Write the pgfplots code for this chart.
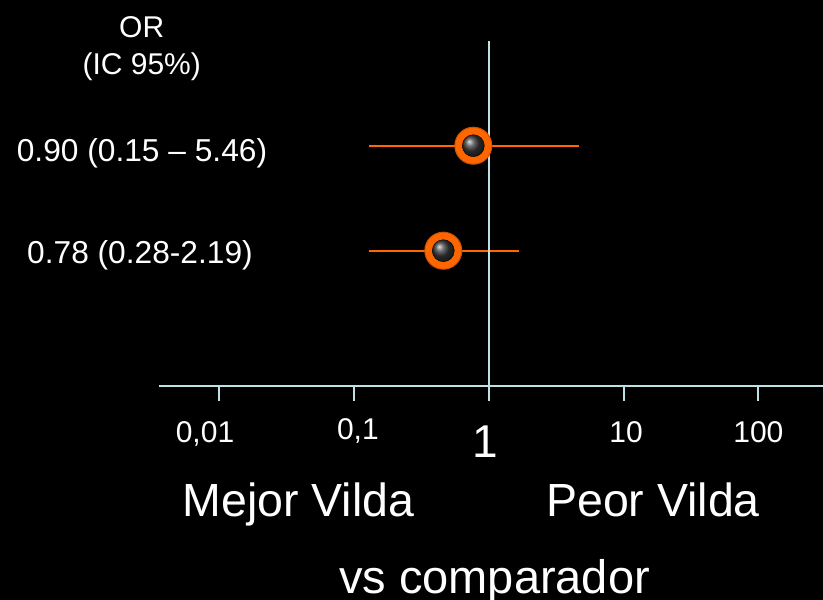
\documentclass[border=0pt]{standalone}
\usepackage{pgfplots}
\pgfplotsset{compat=1.18}
\usepackage{fontspec}
\setmainfont{Liberation Sans}
\definecolor{axc}{RGB}{190,225,228}
\definecolor{org}{RGB}{255,102,0}
\begin{document}
\begin{tikzpicture}
\useasboundingbox (0,0) rectangle (823bp,-600bp);
\fill[black] (0,0) rectangle (823bp,-600bp);
\begin{axis}[
  at={(158.6bp,-385.7bp)}, anchor=south west,
  width=664.4bp, height=344.7bp, scale only axis,
  xmode=log, xmin=0.003565, xmax=301.3, ymin=0, ymax=344.7,
  axis x line=bottom, axis y line=none,
  x axis line style={axc, line width=2bp, -},
  xtick={0.01,0.1,1,10,100},
  xticklabels={{0,01\kern28bp},{\raisebox{3bp}{0,1}\kern-8bp},{\fontsize{46bp}{46bp}\selectfont\raisebox{-15bp}{1}\kern7bp},{10\kern-5bp},{100}},
  xminorticks=false,
  tick align=outside, major tick length=15bp,
  xtick style={axc, line width=2bp},
  clip=false,
  xticklabel style={white, font=\fontsize{30bp}{30bp}\selectfont, anchor=base, inner sep=0pt, yshift=-41.6bp},
]
\addplot[org, line width=2bp] coordinates {(0.1295,240) (4.67,240)};
\addplot[org, line width=2bp] coordinates {(0.1295,135) (1.678,135)};
\addplot[only marks, mark=*, mark size=18.5bp, mark options={fill=org, draw=org!80!black, line width=1bp}] coordinates {(0.769,240) (0.4606,135)};
\addplot[only marks, mark=ball, mark size=11bp, mark options={ball color=gray!45!black}] coordinates {(0.769,240) (0.4606,135)};
\addplot[axc, line width=2bp] coordinates {(1,0) (1,344.7)};
\end{axis}
\begin{scope}[every node/.style={white, inner sep=0pt, anchor=base}]
\node[font=\fontsize{30bp}{30bp}\selectfont] at (141.7bp,-37bp) {OR};
\node[font=\fontsize{30bp}{30bp}\selectfont] at (141.7bp,-74bp) {(IC 95\%)};
\node[font=\fontsize{31.7bp}{31.7bp}\selectfont] at (142bp,-161.7bp) {0.90 (0.15 – 5.46)};
\node[font=\fontsize{31.7bp}{31.7bp}\selectfont] at (140bp,-263.3bp) {0.78 (0.28-2.19)};
\node[font=\fontsize{46.5bp}{46.5bp}\selectfont] at (298.5bp,-516.7bp) {Mejor Vilda};
\node[font=\fontsize{46.5bp}{46.5bp}\selectfont] at (653bp,-516.7bp) {Peor Vilda};
\node[font=\fontsize{47bp}{47bp}\selectfont] at (494.5bp,-593.3bp) {vs comparador};
\end{scope}
\end{tikzpicture}
\end{document}
